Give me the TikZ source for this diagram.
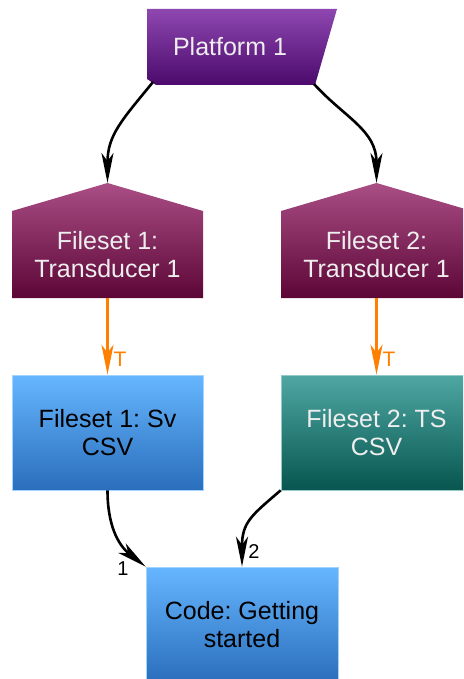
\documentclass[tikz,border=0pt]{standalone}
\usepackage{fontspec}
\setmainfont{Liberation Sans}
\usetikzlibrary{arrows.meta}
\frenchspacing
\definecolor{purT}{HTML}{8E47B0}
\definecolor{purB}{HTML}{4B0A6C}
\definecolor{marT}{HTML}{AA4E86}
\definecolor{marB}{HTML}{5C0636}
\definecolor{bluT}{HTML}{66B6FF}
\definecolor{bluB}{HTML}{2A6EBC}
\definecolor{tealT}{HTML}{4FA7A3}
\definecolor{tealB}{HTML}{07564F}
\definecolor{orng}{HTML}{FF8000}
\definecolor{ltxt}{HTML}{EEEEEE}
\tikzset{
  lbl/.style={font=\fontsize{25}{28}\selectfont, align=center, inner sep=0pt},
  boxnode/.style={lbl, minimum width=191pt, minimum height=115pt},
  blk/.style={line width=2.6pt, black, -{Stealth[length=30pt,width=12pt,inset=8pt]}},
  org/.style={line width=2.6pt, orng, -{Stealth[length=30pt,width=12pt,inset=8pt]}},
  tlab/.style={font=\fontsize{21}{21}\selectfont, text=orng, inner sep=0pt},
  nlab/.style={font=\fontsize{20}{20}\selectfont, text=black, inner sep=0pt}
}
\begin{document}
\begin{tikzpicture}[x=1pt,y=1pt]
\useasboundingbox (0,0) rectangle (463,-679);
\clip (0,0) rectangle (463,-679);

% Platform 1
\path[top color=purT, bottom color=purB] (147,-9) -- (337,-9) -- (315,-85) -- (156,-85) -- (147,-79) -- cycle;
\node[lbl, text=ltxt] (plat) at (230,-47) {Platform 1};
\coordinate (platL) at (153,-82);
\coordinate (platR) at (314,-84);

% Fileset 1: Transducer 1
\path[top color=marT, bottom color=marB] (107.5,-183) -- (203,-211) -- (203,-298) -- (12,-298) -- (12,-211) -- cycle;
\node[lbl, text=ltxt, minimum width=191pt, minimum height=87pt] (fs1) at (107.5,-254.5) {Fileset 1:\\Transducer 1};
\coordinate (fs1top) at (107.5,-183);

% Fileset 2: Transducer 1
\path[top color=marT, bottom color=marB] (376.5,-183) -- (472,-211) -- (472,-298) -- (281,-298) -- (281,-211) -- cycle;
\node[lbl, text=ltxt, minimum width=191pt, minimum height=87pt] (fs2) at (376.5,-254.5) {Fileset 2:\\Transducer 1};
\coordinate (fs2top) at (376.5,-183);

% CSV boxes
\node[boxnode, top color=bluT, bottom color=bluB, draw=bluT!60!white, line width=0.6pt, text=black] (sv) at (107.5,-432.5) {Fileset 1: Sv\\CSV};
\node[boxnode, top color=tealT, bottom color=tealB, draw=tealT!60!white, line width=0.6pt, text=ltxt] (ts) at (376.5,-432.5) {Fileset 2: TS\\CSV};

% Code box
\node[boxnode, minimum width=192pt, top color=bluT, bottom color=bluB, draw=bluT!60!white, line width=0.6pt, text=black] (code) at (242,-624.5) {Code: Getting\\started};

% connectors
\draw[blk] (platL) .. controls (122,-120) and (107.5,-135) .. (fs1top);
\draw[blk] (platR) .. controls (345,-118) and (376.5,-130) .. (fs2top);
\draw[org] (fs1.south) -- (sv.north);
\draw[org] (fs2.south) -- (ts.north);
\node[tlab] (t1) at (120,-359) {T};
\node[tlab] (t2) at (389,-359) {T};
\draw[blk] (sv.south) .. controls (107.5,-525) and (118,-545) .. (code.north west);
\draw[blk] (ts.south west) .. controls (252,-515) and (242,-522) .. (code.north);
\node[nlab] (n1) at (123,-569) {1};
\node[nlab] (n2) at (254,-552) {2};
\end{tikzpicture}
\end{document}
